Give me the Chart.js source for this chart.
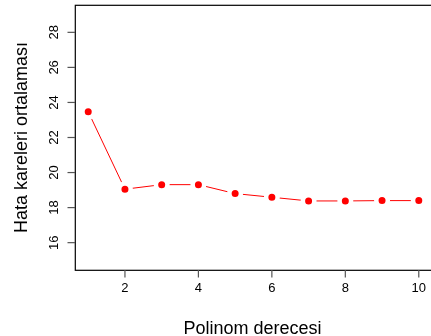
<!DOCTYPE html>
<html>
<head>
<meta charset="utf-8">
<script src="https://cdn.jsdelivr.net/npm/chart.js@4"></script>
<style>
  body { margin: 0; overflow: hidden; background: #fff; }
  #wrap { width: 433px; height: 336px; position: relative; }
</style>
</head>
<body>
<div id="wrap"><canvas id="mseChart"></canvas></div>
<script>
// polynomial degree vs mean squared error
const degrees = [1, 2, 3, 4, 5, 6, 7, 8, 9, 10];
const mseValues = [23.47, 19.05, 19.31, 19.31, 18.8, 18.59, 18.38, 18.38, 18.4, 18.4];
const xTicks = [2, 4, 6, 8, 10];
const yTicks = [16, 18, 20, 22, 24, 26, 28];
const xTitle = "Polinom derecesi";
const yTitle = "Hata kareleri ortalaması";

const FONT = "'Liberation Sans', Arial, Helvetica, sans-serif";

// R style box + axes, drawn from the chart scales
const rAxes = {
  id: "rAxes",
  afterDraw(chart) {
    const { ctx, chartArea: a, scales } = chart;
    const xs = scales.x;
    const ys = scales.y;
    ctx.save();

    // box
    ctx.strokeStyle = "#000";
    ctx.lineWidth = 1.2;
    ctx.strokeRect(a.left + 0.3, a.top + 0.3, a.right - a.left, a.bottom - a.top);

    // ticks
    ctx.strokeStyle = "#555";
    ctx.lineWidth = 1.2;
    ctx.fillStyle = "#000";
    ctx.font = "13px " + FONT;

    xTicks.forEach(v => {
      const px = xs.getPixelForValue(v);
      ctx.beginPath();
      ctx.moveTo(px, a.bottom);
      ctx.lineTo(px, a.bottom + 7.5);
      ctx.stroke();
      ctx.textAlign = "center";
      ctx.textBaseline = "alphabetic";
      ctx.fillText(String(v), px, 291.5);
    });

    yTicks.forEach(v => {
      const py = ys.getPixelForValue(v);
      ctx.beginPath();
      ctx.moveTo(a.left, py);
      ctx.lineTo(a.left - 7.5, py);
      ctx.stroke();
      ctx.save();
      ctx.translate(57.5, py);
      ctx.rotate(-Math.PI / 2);
      ctx.textAlign = "center";
      ctx.textBaseline = "alphabetic";
      ctx.fillText(String(v), 0, 0);
      ctx.restore();
    });

    // axis titles
    ctx.font = "18px " + FONT;
    ctx.textAlign = "center";
    ctx.textBaseline = "alphabetic";
    ctx.fillText(xTitle, 252.5, 334);

    ctx.save();
    ctx.translate(26.5, (a.top + a.bottom) / 2);
    ctx.rotate(-Math.PI / 2);
    ctx.fillText(yTitle, 0, 0);
    ctx.restore();

    ctx.restore();
  }
};

const ctx = document.getElementById("mseChart");

const mseChart = new Chart(ctx, {
  type: "line",
  data: {
    datasets: [
      {
        label: yTitle,
        data: degrees.map((d, i) => ({ x: d, y: mseValues[i] })),
        borderColor: "#ff0000",
        borderWidth: 1,
        backgroundColor: "#ff0000",
        // white ring gives the R type="b" gap around points
        pointRadius: 5.75,
        pointHoverRadius: 5.75,
        pointBorderWidth: 4.5,
        pointBorderColor: "#ffffff",
        pointBackgroundColor: "#ff0000",
        tension: 0
      }
    ]
  },
  options: {
    responsive: true,
    maintainAspectRatio: false,
    animation: false,
    layout: {
      autoPadding: false,
      padding: { left: 75, top: 5, right: 1, bottom: 66 }
    },
    plugins: {
      legend: { display: false },
      tooltip: { enabled: false }
    },
    scales: {
      x: { type: "linear", min: 0.64, max: 10.36, display: false },
      y: { type: "linear", min: 14.44, max: 29.56, display: false }
    }
  },
  plugins: [rAxes]
});
</script>
</body>
</html>
